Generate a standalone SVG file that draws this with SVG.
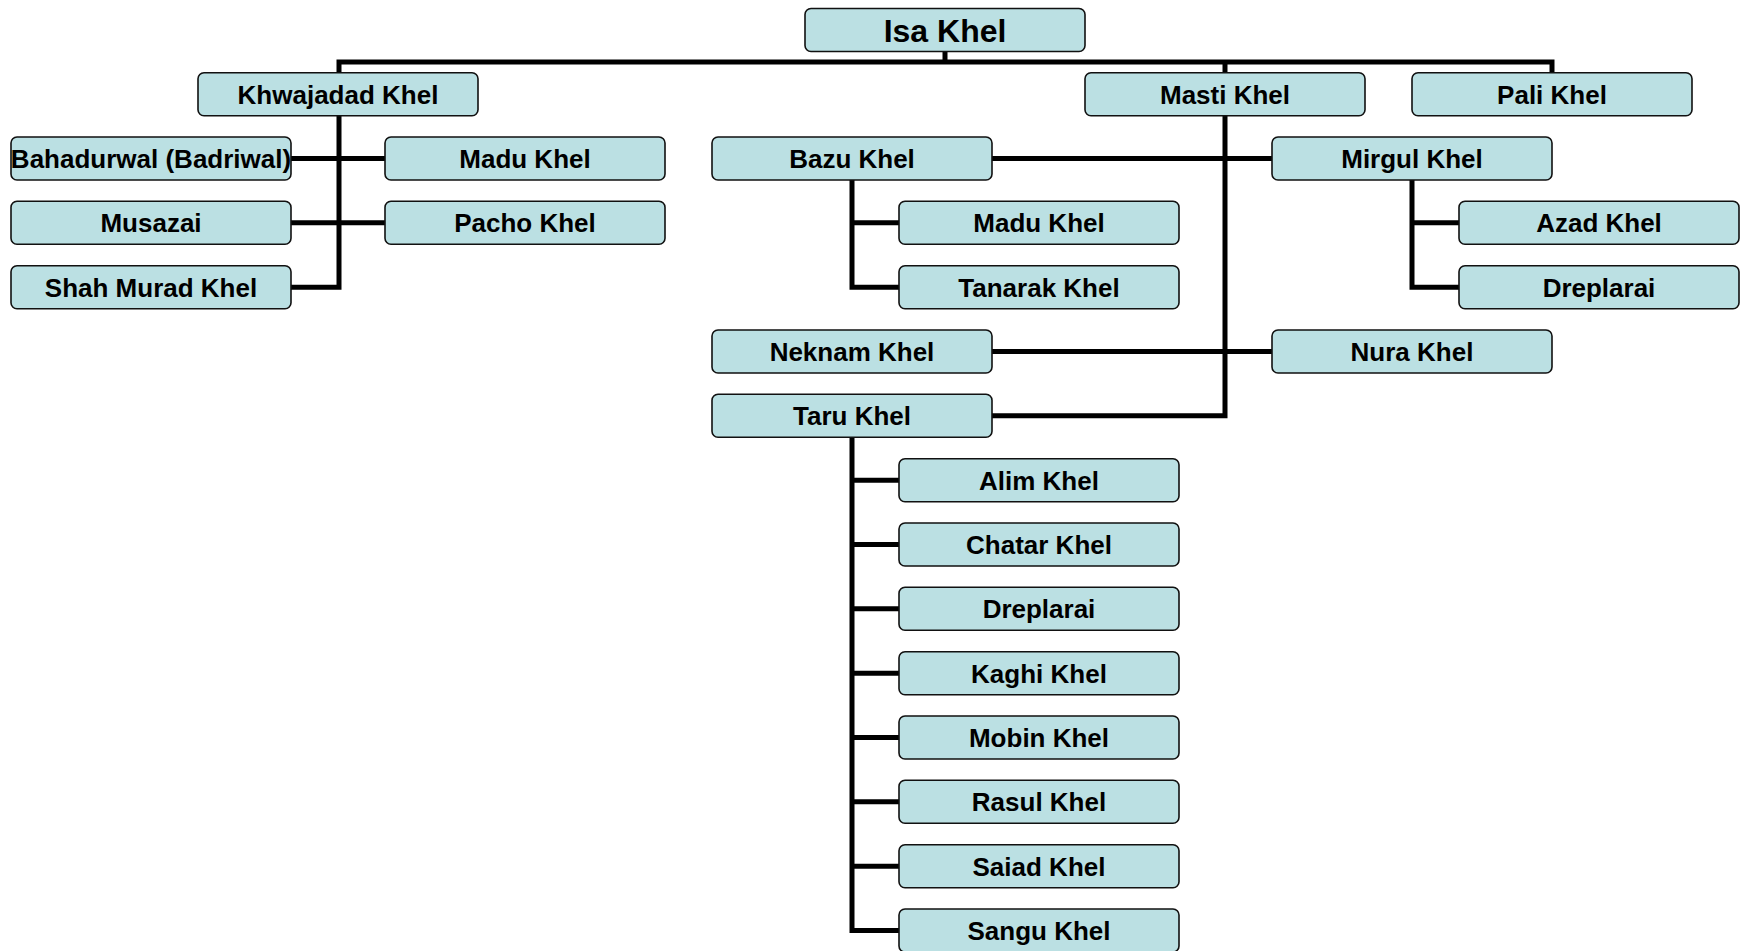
<svg xmlns="http://www.w3.org/2000/svg" width="1746" height="951" viewBox="0 0 1746 951">
<style>
.b{fill:#BBE0E3;stroke:#111;stroke-width:1.6}
.t{font-family:"Liberation Sans",Arial,sans-serif;font-weight:bold;font-size:26px;fill:#000;text-anchor:middle}
.big{font-size:32px}
.c{fill:none;stroke:#000;stroke-width:5;stroke-linejoin:miter}
</style>
<rect width="1746" height="951" fill="#fff"/>
<g id="connectors">
<polyline class="c" points="339,73 339,62 1552,62 1552,73"/>
<line class="c" x1="945" y1="51" x2="945" y2="62"/>
<line class="c" x1="1225" y1="62" x2="1225" y2="73"/>
<polyline class="c" points="339,116 339,287.2 291,287.2"/>
<line class="c" x1="291" y1="158.5" x2="385" y2="158.5"/>
<line class="c" x1="291" y1="222.8" x2="385" y2="222.8"/>
<polyline class="c" points="1225,116 1225,415.8 991,415.8"/>
<line class="c" x1="991" y1="158.5" x2="1272" y2="158.5"/>
<line class="c" x1="991" y1="351.5" x2="1272" y2="351.5"/>
<polyline class="c" points="852,180 852,287.2 899,287.2"/>
<line class="c" x1="852" y1="222.8" x2="899" y2="222.8"/>
<polyline class="c" points="1412,180 1412,287.2 1459,287.2"/>
<line class="c" x1="1412" y1="222.8" x2="1459" y2="222.8"/>
<polyline class="c" points="852,438 852,930.5 899,930.5"/>
<line class="c" x1="852" y1="480.2" x2="899" y2="480.2"/>
<line class="c" x1="852" y1="544.5" x2="899" y2="544.5"/>
<line class="c" x1="852" y1="608.8" x2="899" y2="608.8"/>
<line class="c" x1="852" y1="673.2" x2="899" y2="673.2"/>
<line class="c" x1="852" y1="737.5" x2="899" y2="737.5"/>
<line class="c" x1="852" y1="801.8" x2="899" y2="801.8"/>
<line class="c" x1="852" y1="866.2" x2="899" y2="866.2"/>
</g>
<g id="isa"><rect class="b" x="805" y="8.5" width="280" height="43" rx="6"/><text class="t big" x="945" y="41.5">Isa Khel</text></g>
<g id="khwajadad"><rect class="b" x="198" y="72.7" width="280" height="43" rx="6"/><text class="t" x="338" y="103.5">Khwajadad Khel</text></g>
<g id="masti"><rect class="b" x="1085" y="72.7" width="280" height="43" rx="6"/><text class="t" x="1225" y="103.5">Masti Khel</text></g>
<g id="pali"><rect class="b" x="1412" y="72.7" width="280" height="43" rx="6"/><text class="t" x="1552" y="103.5">Pali Khel</text></g>
<g id="bahadurwal"><rect class="b" x="11" y="137" width="280" height="43" rx="6"/><text class="t" x="151" y="167.8">Bahadurwal (Badriwal)</text></g>
<g id="madu1"><rect class="b" x="385" y="137" width="280" height="43" rx="6"/><text class="t" x="525" y="167.8">Madu Khel</text></g>
<g id="musazai"><rect class="b" x="11" y="201.3" width="280" height="43" rx="6"/><text class="t" x="151" y="232.1">Musazai</text></g>
<g id="pacho"><rect class="b" x="385" y="201.3" width="280" height="43" rx="6"/><text class="t" x="525" y="232.1">Pacho Khel</text></g>
<g id="shahmurad"><rect class="b" x="11" y="265.7" width="280" height="43" rx="6"/><text class="t" x="151" y="296.5">Shah Murad Khel</text></g>
<g id="bazu"><rect class="b" x="712" y="137" width="280" height="43" rx="6"/><text class="t" x="852" y="167.8">Bazu Khel</text></g>
<g id="mirgul"><rect class="b" x="1272" y="137" width="280" height="43" rx="6"/><text class="t" x="1412" y="167.8">Mirgul Khel</text></g>
<g id="madu2"><rect class="b" x="899" y="201.3" width="280" height="43" rx="6"/><text class="t" x="1039" y="232.1">Madu Khel</text></g>
<g id="tanarak"><rect class="b" x="899" y="265.7" width="280" height="43" rx="6"/><text class="t" x="1039" y="296.5">Tanarak Khel</text></g>
<g id="azad"><rect class="b" x="1459" y="201.3" width="280" height="43" rx="6"/><text class="t" x="1599" y="232.1">Azad Khel</text></g>
<g id="dreplarai1"><rect class="b" x="1459" y="265.7" width="280" height="43" rx="6"/><text class="t" x="1599" y="296.5">Dreplarai</text></g>
<g id="neknam"><rect class="b" x="712" y="330" width="280" height="43" rx="6"/><text class="t" x="852" y="360.8">Neknam Khel</text></g>
<g id="nura"><rect class="b" x="1272" y="330" width="280" height="43" rx="6"/><text class="t" x="1412" y="360.8">Nura Khel</text></g>
<g id="taru"><rect class="b" x="712" y="394.3" width="280" height="43" rx="6"/><text class="t" x="852" y="425.1">Taru Khel</text></g>
<g id="alim"><rect class="b" x="899" y="458.7" width="280" height="43" rx="6"/><text class="t" x="1039" y="489.5">Alim Khel</text></g>
<g id="chatar"><rect class="b" x="899" y="523" width="280" height="43" rx="6"/><text class="t" x="1039" y="553.8">Chatar Khel</text></g>
<g id="dreplarai2"><rect class="b" x="899" y="587.3" width="280" height="43" rx="6"/><text class="t" x="1039" y="618.1">Dreplarai</text></g>
<g id="kaghi"><rect class="b" x="899" y="651.7" width="280" height="43" rx="6"/><text class="t" x="1039" y="682.5">Kaghi Khel</text></g>
<g id="mobin"><rect class="b" x="899" y="716" width="280" height="43" rx="6"/><text class="t" x="1039" y="746.8">Mobin Khel</text></g>
<g id="rasul"><rect class="b" x="899" y="780.3" width="280" height="43" rx="6"/><text class="t" x="1039" y="811.1">Rasul Khel</text></g>
<g id="saiad"><rect class="b" x="899" y="844.7" width="280" height="43" rx="6"/><text class="t" x="1039" y="875.5">Saiad Khel</text></g>
<g id="sangu"><rect class="b" x="899" y="909" width="280" height="43" rx="6"/><text class="t" x="1039" y="939.8">Sangu Khel</text></g>
</svg>
